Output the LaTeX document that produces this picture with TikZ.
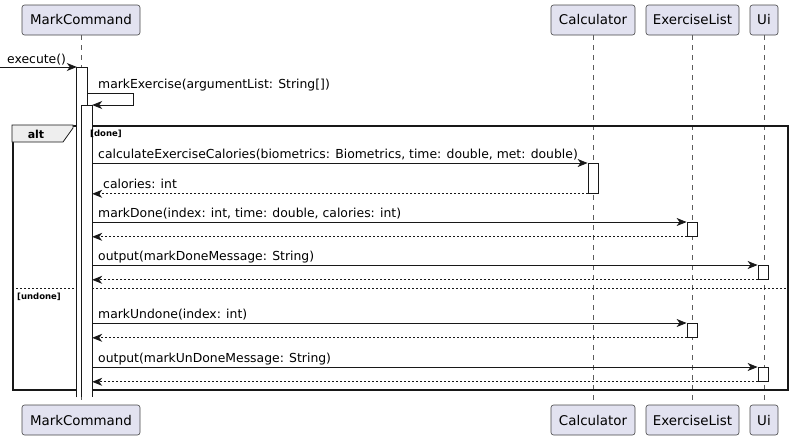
\documentclass[tikz,border=0pt]{standalone}
\usepackage{fontspec}
\setmainfont{DejaVu Sans}
\usetikzlibrary{arrows.meta}
\definecolor{partfill}{HTML}{E2E2F0}
\definecolor{ink}{HTML}{181818}
\definecolor{tabfill}{HTML}{EEEEEE}
\begin{document}
\begin{tikzpicture}[x=1pt,y=-1pt,
  part/.style={draw=ink!80, line width=0.6pt, fill=partfill, rounded corners=2.5pt,
    minimum height=30pt, inner sep=0pt, font=\fontsize{13.4}{15}\selectfont},
  life/.style={draw=ink!70, line width=0.5pt, dash pattern=on 5pt off 5pt},
  act/.style={fill=white, minimum width=10pt, inner sep=0pt, anchor=north},
  actline/.style={draw=ink, line width=0.8pt},
  msg/.style={draw=ink, line width=0.8pt, -{Stealth[length=10pt,width=8pt,inset=3pt]}},
  ret/.style={msg, dash pattern=on 2pt off 2pt},
  lbl/.style={anchor=base west, inner sep=0pt, font=\fontsize{12.4}{14}\selectfont},
  guard/.style={anchor=base west, inner sep=0pt, font=\bfseries\fontsize{8.5}{10}\selectfont},
]
\useasboundingbox (0,0) rectangle (793,440);
% participants
\node[part, minimum width=118pt] (mc) at (81,20) {MarkCommand};
\node[part, minimum width=84pt] (calc) at (593,20) {Calculator};
\node[part, minimum width=93pt] (el) at (692.5,20) {ExerciseList};
\node[part, minimum width=28pt] (ui) at (764,20) {Ui};
\node[part, minimum width=118pt] (mcb) at (81,420) {MarkCommand};
\node[part, minimum width=84pt] (calcb) at (593,420) {Calculator};
\node[part, minimum width=93pt] (elb) at (692.5,420) {ExerciseList};
\node[part, minimum width=28pt] (uib) at (764,420) {Ui};
% lifelines
\draw[life] (mc.south) -- (mcb.north);
\draw[life] (calc.south) -- (calcb.north);
\draw[life] (el.south) -- (elb.north);
\draw[life] (ui.south) -- (uib.north);
% frame
\node[draw=ink, line width=1.5pt, minimum width=775pt, minimum height=264pt, inner sep=0pt, anchor=north west] (frame) at (12,125) {};
\draw[draw=ink, line width=0.8pt, fill=tabfill] (frame.north west) -- ++(61,0) -- ++(0,3) -- ++(-10,14) -- ++(-51,0) -- cycle;
\node[anchor=base, inner sep=0pt, font=\bfseries\fontsize{11}{13}\selectfont] (alt) at (36,138) {alt};
\draw[draw=ink, line width=0.6pt, dash pattern=on 2pt off 2pt] (frame.west |- 0,288) coordinate (sepL) -- (frame.east |- 0,288) coordinate (sepR);
% activation bars (open at the bottom: never deactivated)
\node[act, minimum height=330pt] (a1) at (82,67) {};
\draw[actline] (a1.south west) -- (a1.north west) -- (a1.north east) -- (a1.south east);
\node[act, minimum height=292pt] (a2) at (87,105) {};
\draw[actline] (a2.south west) -- (a2.north west) -- (a2.north east) -- (a2.south east);
\node[act, draw=ink, line width=0.8pt, minimum height=30pt] (cb) at (593,163) {};
\node[act, draw=ink, line width=0.8pt, minimum height=14pt] (eb1) at (692,222) {};
\node[act, draw=ink, line width=0.8pt, minimum height=14pt] (ub1) at (763,265) {};
\node[act, draw=ink, line width=0.8pt, minimum height=14pt] (eb2) at (692,323) {};
\node[act, draw=ink, line width=0.8pt, minimum height=14pt] (ub2) at (763,367) {};
% guards
\node[guard] (gdone) at (90,136) {[done]};
\node[guard] (gundone) at (17,299) {[undone]};
% execute
\coordinate (start) at (0,67);
\draw[msg] (start) -- (a1.north west);
\node[lbl] (lexec) at (7,63) {execute()};
% self call
\draw[msg] (a1.north east) ++(0,26) coordinate (selfA) -- ++(46,0) |- (a2.north east);
\node[lbl] (lself) at (98,88) {markExercise(argumentList: String[])};
% done branch
\draw[msg] (a2.east |- cb.north west) -- (cb.north west);
\node[lbl] (l1) at (98,158) {calculateExerciseCalories(biometrics: Biometrics, time: double, met: double)};
\draw[ret] (cb.south west) -- (a2.east |- cb.south west);
\node[lbl] (l2) at (103,188) {calories: int};
\draw[msg] (a2.east |- eb1.north west) -- (eb1.north west);
\node[lbl] (l3) at (98,217) {markDone(index: int, time: double, calories: int)};
\draw[ret] (eb1.south west) -- (a2.east |- eb1.south west);
\draw[msg] (a2.east |- ub1.north west) -- (ub1.north west);
\node[lbl] (l4) at (98,260) {output(markDoneMessage: String)};
\draw[ret] (ub1.south west) -- (a2.east |- ub1.south west);
% undone branch
\draw[msg] (a2.east |- eb2.north west) -- (eb2.north west);
\node[lbl] (l5) at (98,318) {markUndone(index: int)};
\draw[ret] (eb2.south west) -- (a2.east |- eb2.south west);
\draw[msg] (a2.east |- ub2.north west) -- (ub2.north west);
\node[lbl] (l6) at (98,362) {output(markUnDoneMessage: String)};
\draw[ret] (ub2.south west) -- (a2.east |- ub2.south west);
\end{tikzpicture}
\end{document}
